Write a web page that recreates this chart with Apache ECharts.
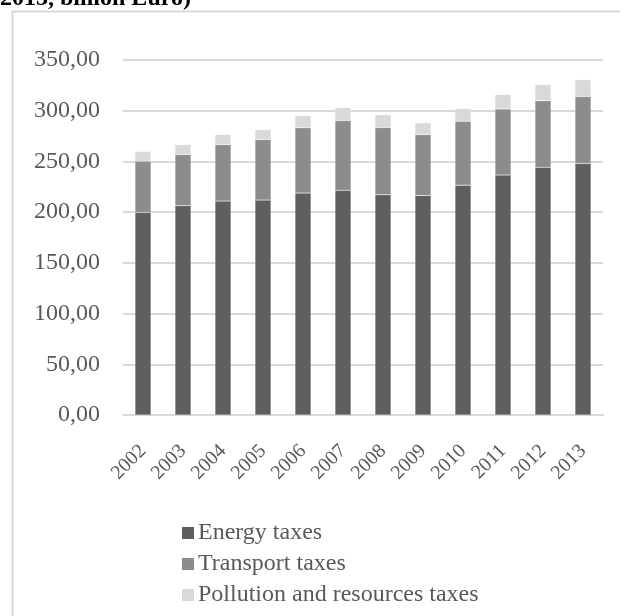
<!DOCTYPE html>
<html>
<head>
<meta charset="utf-8">
<script src="https://cdn.jsdelivr.net/npm/echarts@6/dist/echarts.min.js"></script>
<style>html,body{margin:0;padding:0;background:#fff;}#c{width:620px;height:616px;}</style>
</head>
<body>
<div id="c"></div>
<script>
const years = ['2002','2003','2004','2005','2006','2007','2008','2009','2010','2011','2012','2013'];
const energyTaxes = [199.7, 206.3, 210.9, 211.9, 218.8, 221.7, 217.1, 216.5, 226.6, 236.5, 244.3, 248.0];
const transportTaxes = [50.5, 50.5, 55.7, 59.7, 64.3, 68.6, 66.3, 60.0, 63.0, 65.3, 65.6, 65.9];
const pollutionTaxes = [9.6, 9.8, 9.9, 9.8, 12.1, 12.8, 12.5, 11.5, 12.5, 14.1, 15.8, 16.7];
const seriesNames = ['Energy taxes', 'Transport taxes', 'Pollution and resources taxes'];
const yTicks = [0, 50, 100, 150, 200, 250, 300, 350];

const font = '"Liberation Serif", "Times New Roman", serif';
const chart = echarts.init(document.getElementById('c'), null, {renderer: 'canvas'});
const mk = (name, data, color) => ({
  name, type: 'bar', stack: 'total', data, barWidth: '40%',
  itemStyle: {color, borderColor: 'rgba(255,255,255,0.35)', borderWidth: 0.5},
  emphasis: {disabled: true}
});
chart.setOption({
  animation: false,
  graphic: [
    {type: 'rect', left: 10, top: 9, shape: {width: 700, height: 700},
     style: {fill: 'none', stroke: '#d9d9d9', lineWidth: 2}, z: -1},
    {type: 'text', left: 0, top: -13,
     style: {text: '2013, billion Euro)', font: 'bold 24px ' + font, fill: '#000'}}
  ],
  grid: {left: 123, right: 17, top: 60, bottom: 201},
  legend: {
    orient: 'vertical', left: 177, top: 516, height: 200, itemWidth: 12, itemHeight: 12, itemGap: 7,
    icon: 'rect', data: seriesNames, itemStyle: {borderWidth: 0},
    textStyle: {fontFamily: font, fontSize: 24, color: '#595959', padding: [0, 0, 0, -1]}
  },
  xAxis: {
    type: 'category', data: years,
    axisLine: {lineStyle: {color: '#d9d9d9', width: 2}},
    axisTick: {show: false},
    axisLabel: {rotate: 45, margin: 33, fontFamily: font, fontSize: 20, color: '#595959', interval: 0}
  },
  yAxis: {
    type: 'value', min: 0, max: 350, interval: 50,
    axisLine: {show: false}, axisTick: {show: false},
    splitLine: {lineStyle: {color: '#d9d9d9', width: 2}},
    axisLabel: {margin: 23, fontFamily: font, fontSize: 24, color: '#595959',
      formatter: v => yTicks.includes(v) ? v.toFixed(2).replace('.', ',') : ''}
  },
  series: [
    mk(seriesNames[0], energyTaxes, '#5f5f5f'),
    mk(seriesNames[1], transportTaxes, '#8c8c8c'),
    mk(seriesNames[2], pollutionTaxes, '#d9d9d9')
  ]
});
</script>
</body>
</html>
